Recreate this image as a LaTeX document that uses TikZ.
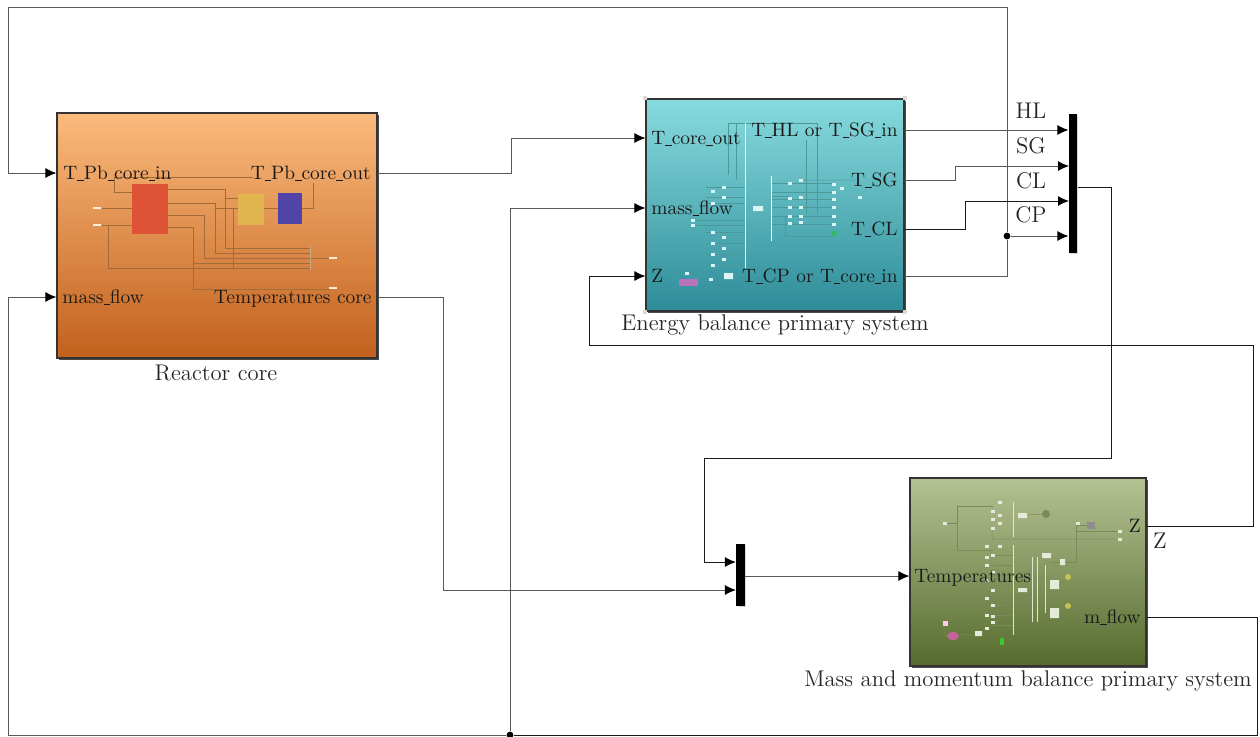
\documentclass[tikz,border=0pt]{standalone}
\usepackage{amsmath}
\usepackage{xcolor}
\usetikzlibrary{positioning, arrows.meta, shadows}

\definecolor{coretop}{HTML}{FBBA7C}
\definecolor{corebot}{HTML}{C2611E}
\definecolor{energytop}{HTML}{87DBDE}
\definecolor{energybot}{HTML}{2E8C98}
\definecolor{masstop}{HTML}{B5C293}
\definecolor{massbot}{HTML}{566B2D}
\definecolor{corewire}{HTML}{A06C38}
\definecolor{energywire}{HTML}{4A9A9C}
\definecolor{masswire}{HTML}{7B8A58}
\definecolor{corered}{HTML}{DE5235}
\definecolor{coreyellow}{HTML}{E2B64E}
\definecolor{coreblue}{HTML}{5044A8}

\newcommand{\us}{\rule[-.9pt]{3.2pt}{.35pt}}

\tikzset{
  subsystem/.style={rectangle, draw=black!80, line width=.6pt, inner sep=0pt,
    drop shadow={shadow xshift=.9pt, shadow yshift=-.9pt, fill=black!70, opacity=1}},
  portlabel/.style={inner sep=0pt, text height=1.9ex, text depth=.45ex, text=black!90},
  caption/.style={inner sep=0pt, text=black!85, font=\fontsize{11.35}{13}\selectfont},
  wire/.style={draw=black!65, line width=.45pt},
  darkwire/.style={draw=black!90, line width=.5pt},
  feed/.style={-{Latex[length=5.5pt, width=5pt, black]}},
  busbar/.style={rectangle, fill=black, inner sep=0pt, minimum width=4.2pt,
    drop shadow={shadow xshift=.6pt, shadow yshift=-.4pt, fill=black!30}},
  junction/.style={circle, fill=black, inner sep=0pt, minimum size=3.4pt},
}

\begin{document}
\begin{tikzpicture}[x=.5pt, y=-.5pt, font=\fontsize{9.7}{11}\selectfont]
   \useasboundingbox (0,0) rectangle (1260,736);

   % subsystems
   \node[subsystem, top color=coretop, bottom color=corebot, minimum width=160pt, minimum height=122.5pt] (core) at (217,235.5) {};
   \node[subsystem, top color=energytop, bottom color=energybot, minimum width=129pt, minimum height=106pt] (energy) at (775,205) {};
   \node[subsystem, top color=masstop, bottom color=massbot, minimum width=118pt, minimum height=94pt] (mass) at (1028,572) {};

   \node[busbar, minimum height=69.5pt] (bus) at (1073,183.5) {};
   \node[busbar, minimum height=31pt] (mix) at (740.5,575) {};

   % corner handles of the energy balance
   \foreach \corner in {north west, north east, south west, south east}
      \fill[black!15] (energy.\corner) ++(-2,-2) rectangle ++(4,4);

   % inside of the reactor core
   \begin{scope}[corewire, line width=.25pt]
      \draw (115,177) -- (253,177) (114,177) -- (114,192) -- (132,192);
      \draw (102,208) -- (132,208) (102,225) -- (132,225) (108,225) -- (108,268) -- (310,268);
      \draw (168,189) -- (225,189) -- (225,248) -- (310,248) (225,198) -- (238,198);
      \draw (168,203) -- (215,203) -- (215,253) -- (310,253) (215,208) -- (238,208);
      \draw (168,215) -- (204,215) -- (204,258) -- (310,258);
      \draw (168,227) -- (193,227) -- (193,289) -- (330,289) (193,263) -- (310,263);
      \draw (233,208) -- (233,268) (264,208) -- (278,208);
      \draw (302,208) -- (314,208) (313,208) -- (313,183) (310,258) -- (330,258);
      \draw[corewire!60, line width=.5pt] (310,246) -- (310,270);
   \end{scope}
   \fill[corered] (132,184) rectangle (168,234);
   \fill[coreyellow] (238,194) rectangle (264,225);
   \fill[coreblue] (278,193) rectangle (302,224);
   \foreach \x/\y in {97/208, 97/225, 333/258, 333/288}
      \fill[white!85!orange] (\x-4,\y-1) rectangle (\x+4,\y+1);

   % inside of the energy balance
   \begin{scope}[energywire, line width=.25pt]
      \draw (728,175) -- (728,123) -- (817,123) -- (817,213);
      \draw (806,140) -- (806,213) (736,123) -- (736,180);
      \foreach \y in {187,197,203,232,243,254,265}
         \draw (706,\y) -- (745,\y);
      \draw (693,220) -- (745,220) (693,225) -- (745,225);
      \foreach \y in {183,192,199,207,216,224}
         \draw (771,\y) -- (834,\y);
      \draw (771,196) -- (790,196) (785,216) -- (785,236) -- (834,236);
      \draw (698,283) -- (724,276) (801,180) -- (855,180);
   \end{scope}
   \draw[white!75!energytop, line width=.5pt] (745,123) -- (745,268);
   \draw[white, line width=.5pt] (771,176) -- (771,241);
   \foreach \x/\y in {713/191,724/187,713/203,724/197,713/232,724/237,713/243,724/248,713/254,724/259,713/265,
                      790/183,801/180,790/198,801/197,790/207,801/207,790/216,801/216,790/223,801/222,
                      834/184,834/192,834/199,834/207,834/216,834/224,842/188,860/197,711/279,687/273,693/220,693/225}
      \fill[white!70!energytop] (\x-2,\y-1.5) rectangle (\x+2,\y+1.5);
   \fill[white!70!energytop] (753,206) rectangle (763,211) (724,273) rectangle (733,279);
   \fill[energywire!70!green] (831,231) rectangle (837,236);
   \fill[violet!55!white] (679,279) rectangle (698,286);

   % inside of the mass balance
   \begin{scope}[masswire, line width=.25pt]
      \draw (993,506) -- (957,506) -- (957,550) -- (993,550) (945,523) -- (957,523);
      \draw (992,539) -- (1120,539) (992,530) -- (992,539) (1027,515) -- (1046,514);
      \draw (1076,525) -- (1076,562) -- (1050,562) (1076,531) -- (1120,531) (1076,525) -- (1087,525);
      \foreach \y in {555,565,575,585,595,605,615,625}
         \draw (993,\y) -- (1013,\y);
      \draw (1013,577) -- (1050,577) (1059,585) -- (1068,577) (1059,612) -- (1068,606);
      \draw (945,623) -- (945,636) -- (975,634);
   \end{scope}
   \draw[white!60!masstop, line width=.5pt] (1013,502) -- (1013,537) (1013,545) -- (1013,635) (1032,557) -- (1032,622) (1037,557) -- (1037,622) (1045,565) -- (1045,613);
   \foreach \x/\y in {1000/502,993/511,1000/515,993/519,1000/523,993/528,987/546,1000/546,987/557,993/555,
                      987/565,993/572,987/580,993/590,987/598,993/605,987/615,993/616,987/628,993/622,945/523,1078/523,1120/531,1120/539}
      \fill[white!65!masstop] (\x-2,\y-1.5) rectangle (\x+2,\y+1.5);
   \fill[white!65!masstop] (1018,513) rectangle (1027,518) (1042,553) rectangle (1051,558) (1018,588) rectangle (1027,592)
      (975,631) rectangle (982,636) (1050,580) rectangle (1059,589) (1050,608) rectangle (1059,618) (1060,559) rectangle (1065,565);
   \fill[masswire] (1046,514) circle (4);
   \fill[black!45] (1087,522) rectangle (1095,529);
   \fill[yellow!50!masswire] (1068,577) circle (3) (1068,606) circle (3);
   \fill[magenta!50!gray] (953,636) ellipse (6 and 4);
   \fill[magenta!20!white] (943,621) rectangle (948,626);
   \fill[green!50!masswire] (1000,638) rectangle (1004,645);

   % port labels
   \node[portlabel, anchor=west] (t_pb_in) at (63,173) {T\us Pb\us core\us in};
   \node[portlabel, anchor=east] (t_pb_out) at (371,173) {T\us Pb\us core\us out};
   \node[portlabel, anchor=west] (core_flow) at (62,297) {mass\us flow};
   \node[portlabel, anchor=east] (core_temp) at (372,297) {Temperatures core};

   \node[portlabel, anchor=west] (t_core_out) at (651,138) {T\us core\us out};
   \node[portlabel, anchor=west] (energy_flow) at (651,208) {mass\us flow};
   \node[portlabel, anchor=west] (energy_z) at (651,276) {Z};
   \node[portlabel, anchor=east] (t_hl) at (898,130) {T\us HL or T\us SG\us in};
   \node[portlabel, anchor=east] (t_sg) at (898,180) {T\us SG};
   \node[portlabel, anchor=east] (t_cl) at (898,229) {T\us CL};
   \node[portlabel, anchor=east] (t_cp) at (898,276) {T\us CP or T\us core\us in};

   \node[portlabel, anchor=west] (mass_temp) at (914,576) {Temperatures};
   \node[portlabel, anchor=east] (mass_z) at (1141,526) {Z};
   \node[portlabel, anchor=east] (mass_flow) at (1141,617) {m\us flow};

   % captions
   \node[caption] (core_name) at (216,373) {Reactor core};
   \node[caption] (energy_name) at (775,325) {Energy balance primary system};
   \node[caption] (mass_name) at (1028,681) {Mass and momentum balance primary system};
   \node[caption] (hl_name) at (1031,111) {HL};
   \node[caption] (sg_name) at (1031,146) {SG};
   \node[caption] (cl_name) at (1031,181) {CL};
   \node[caption] (cp_name) at (1031,215) {CP};
   \node[caption] (z_name) at (1160,541) {Z};

   % junctions
   \node[junction] (split_temp) at (1007,236) {};
   \node[junction] (split_flow) at (510,735) {};

   % signals
   \draw[wire, feed] (core.east |- t_pb_out) -- (511,173) -- (511,138) -- (energy.west |- t_core_out);
   \draw[wire] (energy.east |- t_cp) -- (1007,276) -- (split_temp);
   \draw[wire, feed] (split_temp) -- (bus.west |- split_temp);
   \draw[wire, feed] (split_temp) -- (1007,7) -- (8,7) -- (8,173) -- (core.west |- t_pb_in);
   \draw[wire, feed] (energy.east |- t_hl) -- (bus.west |- t_hl);
   \draw[wire, feed] (energy.east |- t_sg) -- (955,180) -- (955,166) -- (1069,166);
   \draw[darkwire, feed] (energy.east |- t_cl) -- (965,229) -- (965,201) -- (1069,201);
   \draw[darkwire, feed] (bus.east |- 0,187) -- (1111,187) -- (1111,458) -- (704,458) -- (704,562) -- (mix.west |- 0,562);
   \draw[wire, feed] (core.east |- core_temp) -- (443,297) -- (443,590) -- (mix.west |- 0,590);
   \draw[wire, feed] (mix.east |- mass_temp) -- (mass.west |- mass_temp);
   \draw[darkwire, feed] (mass.east |- mass_z) -- (1253,526) -- (1253,345) -- (589,345) -- (589,276) -- (energy.west |- energy_z);
   \draw[darkwire] (mass.east |- mass_flow) -- (1257,617) -- (1257,735) -- (split_flow);
   \draw[wire, feed] (split_flow) -- (8,735) -- (8,297) -- (core.west |- core_flow);
   \draw[wire, feed] (split_flow) -- (510,208) -- (energy.west |- energy_flow);
\end{tikzpicture}
\end{document}
